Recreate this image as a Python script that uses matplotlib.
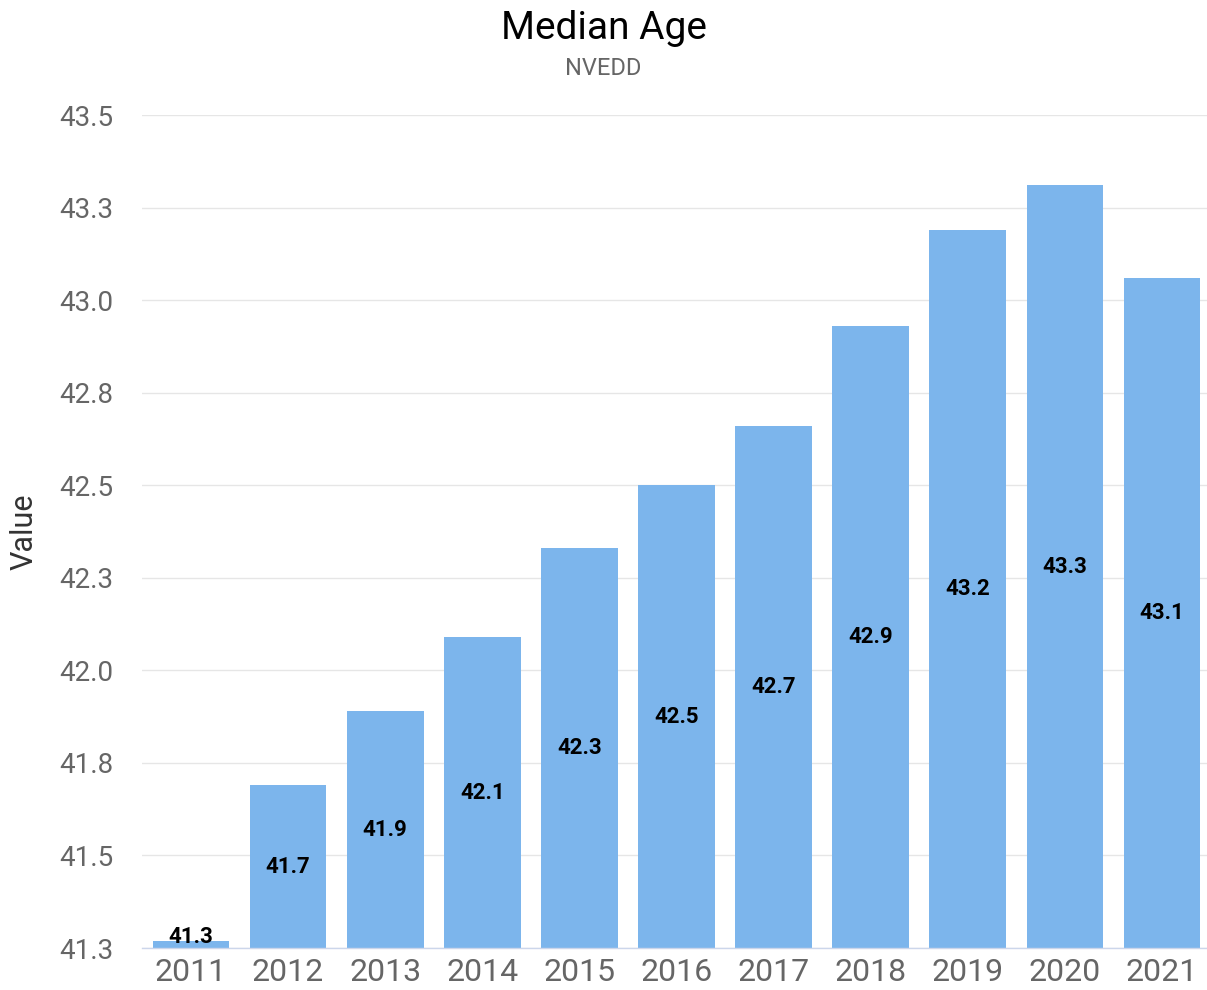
import numpy as np
import matplotlib.pyplot as plt

years = ['2011', '2012', '2013', '2014', '2015', '2016', '2017', '2018', '2019', '2020', '2021']
median_age = [41.27, 41.69, 41.89, 42.09, 42.33, 42.50, 42.66, 42.93, 43.19, 43.31, 43.06]
y_ticks = [41.25, 41.5, 41.75, 42.0, 42.25, 42.5, 42.75, 43.0, 43.25, 43.5]
y_tick_labels = ['41.3', '41.5', '41.8', '42.0', '42.3', '42.5', '42.8', '43.0', '43.3', '43.5']

plt.rcParams['font.family'] = ['Roboto', 'DejaVu Sans']

fig = plt.figure(figsize=(12.07, 9.9), dpi=100)
ax = fig.add_axes([0.118, 0.0424, 0.885, 0.8414])

y_min, y_max = 41.25, 43.5
x = np.arange(len(years))
ax.bar(x, [v - y_min for v in median_age], bottom=y_min, width=0.79,
       color='#7cb5ec', zorder=2)

# value labels in the middle of each bar
for xi, v in zip(x, median_age):
    y_lab = max((v + y_min) / 2, y_min + 0.03)
    ax.text(xi, y_lab, '{:.1f}'.format(v), ha='center', va='center',
            fontsize=16, fontweight='bold', color='black', zorder=3)

ax.set_xlim(-0.5, len(years) - 0.5)
ax.set_ylim(y_min, y_max)
ax.set_xticks(x)
ax.set_xticklabels(years)
ax.set_yticks(y_ticks)
ax.set_yticklabels(y_tick_labels)
ax.tick_params(axis='x', length=0, pad=7, labelsize=23, labelcolor='#666666')
ax.tick_params(axis='y', length=0, pad=21, labelsize=20, labelcolor='#666666')

ax.grid(axis='y', color='#e6e6e6', linewidth=1, zorder=0)
for side in ['top', 'right', 'left']:
    ax.spines[side].set_visible(False)
ax.spines['bottom'].set_color('#ccd6eb')
ax.spines['bottom'].set_linewidth(1)
ax.spines['bottom'].set_zorder(3)

ax.set_ylabel('Value', fontsize=22, color='#333333')
ax.yaxis.set_label_coords(-0.097, 0.5)

fig.text(0.5, 0.971, 'Median Age', ha='center', va='center', fontsize=28, color='black')
fig.text(0.5, 0.931, 'NVEDD', ha='center', va='center', fontsize=17, color='#666666')

fig.savefig('out.png', dpi=100)
